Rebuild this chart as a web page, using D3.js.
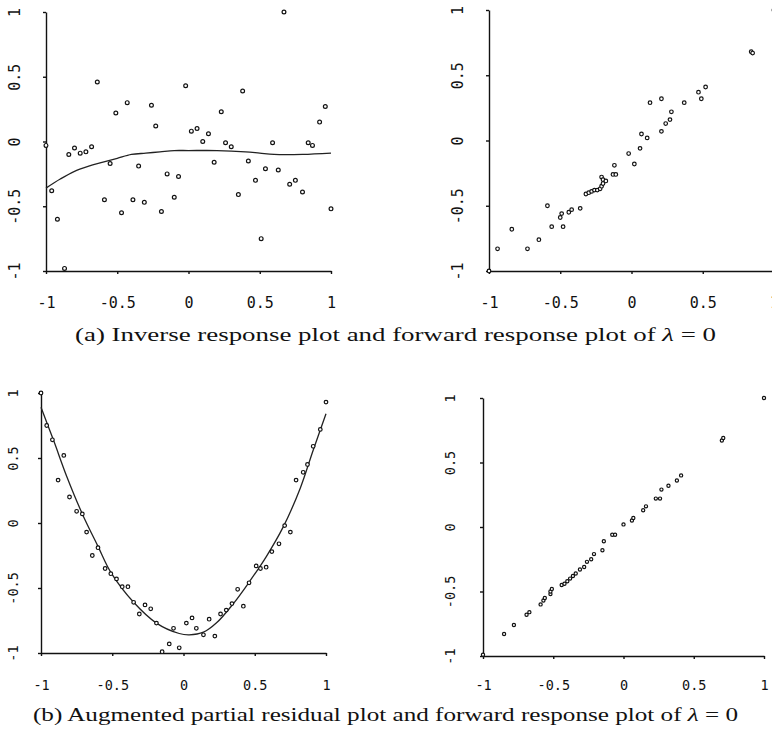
<!DOCTYPE html>
<html>
<head>
<meta charset="utf-8">
<script src="https://cdn.jsdelivr.net/npm/d3@7"></script>
<style>
	body { margin: 0; background: #fff; }
	svg { display: block; }
	.axis path, .axis line { stroke: #111; stroke-width: 1.4; }
	.axis text { font-family: "DejaVu Sans Mono", monospace; fill: #111; }
	.caption { font-family: "Liberation Serif", "DejaVu Serif", serif; fill: #111; }
</style>
</head>
<body>
<svg id="fig" width="772" height="731"></svg>
<script>
const tickValues = [-1, -0.5, 0, 0.5, 1];

// (a) left: inverse response plot
const inversePts = [
	[-1.00, -0.03], [-0.96, -0.38], [-0.92, -0.60], [-0.87, -0.98], [-0.84, -0.10],
	[-0.80, -0.05], [-0.76, -0.09], [-0.72, -0.08], [-0.68, -0.04], [-0.64, 0.46],
	[-0.59, -0.45], [-0.55, -0.17], [-0.51, 0.22], [-0.47, -0.55], [-0.43, 0.30],
	[-0.39, -0.45], [-0.35, -0.19], [-0.31, -0.47], [-0.26, 0.28], [-0.23, 0.12],
	[-0.19, -0.54], [-0.15, -0.25], [-0.10, -0.43], [-0.07, -0.27], [-0.02, 0.43],
	[0.02, 0.08], [0.06, 0.10], [0.10, 0.00], [0.14, 0.06], [0.18, -0.16],
	[0.23, 0.23], [0.26, -0.01], [0.30, -0.04], [0.35, -0.41], [0.38, 0.39],
	[0.42, -0.15], [0.47, -0.30], [0.51, -0.75], [0.54, -0.21], [0.59, -0.01],
	[0.63, -0.22], [0.67, 1.00], [0.71, -0.33], [0.75, -0.30], [0.80, -0.39],
	[0.84, -0.01], [0.87, -0.03], [0.92, 0.15], [0.96, 0.27], [1.00, -0.52]
];
const inverseFit = [
	[-1, -0.36], [-0.9, -0.29], [-0.8, -0.23], [-0.7, -0.19], [-0.6, -0.16],
	[-0.5, -0.13], [-0.4, -0.10], [-0.3, -0.09], [-0.2, -0.08], [-0.1, -0.07],
	[0, -0.07], [0.2, -0.07], [0.4, -0.08], [0.5, -0.09], [0.6, -0.10],
	[0.8, -0.10], [1, -0.09]
];

// (a) right: forward response plot
const forwardAPts = [
	[-1.00, -1.00], [-0.94, -0.83], [-0.84, -0.68], [-0.73, -0.83], [-0.65, -0.76],
	[-0.59, -0.50], [-0.56, -0.66], [-0.50, -0.59], [-0.49, -0.56], [-0.48, -0.66],
	[-0.44, -0.55], [-0.42, -0.53], [-0.36, -0.52], [-0.32, -0.41], [-0.30, -0.40],
	[-0.28, -0.39], [-0.26, -0.38], [-0.24, -0.38], [-0.22, -0.37], [-0.21, -0.35],
	[-0.20, -0.33], [-0.21, -0.28], [-0.20, -0.30], [-0.18, -0.31], [-0.13, -0.26],
	[-0.11, -0.26], [-0.12, -0.19], [-0.02, -0.10], [0.02, -0.18], [0.06, -0.06],
	[0.07, 0.05], [0.11, 0.02], [0.13, 0.29], [0.21, 0.07], [0.21, 0.32],
	[0.24, 0.13], [0.27, 0.16], [0.28, 0.22], [0.37, 0.29], [0.47, 0.37],
	[0.49, 0.32], [0.52, 0.41], [0.84, 0.68], [0.85, 0.67], [1.00, 1.00]
];

// (b) left: augmented partial residual plot
const augmentedPts = [
	[-1.00, 1.00], [-0.96, 0.75], [-0.92, 0.64], [-0.88, 0.33], [-0.84, 0.52],
	[-0.80, 0.20], [-0.75, 0.09], [-0.71, 0.07], [-0.68, -0.07], [-0.64, -0.25],
	[-0.60, -0.19], [-0.55, -0.35], [-0.51, -0.39], [-0.47, -0.43], [-0.43, -0.49],
	[-0.39, -0.49], [-0.35, -0.61], [-0.31, -0.70], [-0.27, -0.63], [-0.23, -0.66],
	[-0.19, -0.77], [-0.15, -0.99], [-0.10, -0.93], [-0.07, -0.81], [-0.03, -0.96],
	[0.02, -0.77], [0.06, -0.73], [0.09, -0.81], [0.14, -0.86], [0.18, -0.74],
	[0.22, -0.87], [0.26, -0.70], [0.30, -0.67], [0.34, -0.62], [0.38, -0.51],
	[0.42, -0.64], [0.46, -0.46], [0.51, -0.33], [0.54, -0.35], [0.58, -0.34],
	[0.62, -0.22], [0.67, -0.16], [0.71, -0.02], [0.75, -0.07], [0.79, 0.33],
	[0.84, 0.39], [0.87, 0.45], [0.91, 0.59], [0.96, 0.72], [1.00, 0.93]
];
const augmentedFit = [
	[-1.00, 0.89], [-0.91, 0.63], [-0.82, 0.36], [-0.71, 0.07], [-0.60, -0.18],
	[-0.51, -0.38], [-0.35, -0.61], [-0.19, -0.77], [-0.03, -0.85], [0.04, -0.86],
	[0.14, -0.84], [0.23, -0.77], [0.35, -0.62], [0.47, -0.44], [0.58, -0.26],
	[0.70, -0.03], [0.82, 0.27], [0.91, 0.56], [1.00, 0.84]
];

// (b) right: forward response plot
const forwardBPts = [
	[-1.00, -0.99], [-0.85, -0.83], [-0.78, -0.76], [-0.69, -0.68], [-0.67, -0.66],
	[-0.59, -0.60], [-0.57, -0.57], [-0.56, -0.55], [-0.52, -0.52], [-0.52, -0.50],
	[-0.51, -0.48], [-0.44, -0.45], [-0.42, -0.44], [-0.40, -0.42], [-0.38, -0.40],
	[-0.36, -0.38], [-0.34, -0.36], [-0.31, -0.33], [-0.28, -0.31], [-0.26, -0.27],
	[-0.23, -0.25], [-0.21, -0.21], [-0.15, -0.18], [-0.14, -0.11], [-0.08, -0.06],
	[-0.06, -0.06], [0.00, 0.02], [0.06, 0.05], [0.07, 0.07], [0.14, 0.13],
	[0.16, 0.16], [0.23, 0.22], [0.26, 0.22], [0.27, 0.29], [0.32, 0.32],
	[0.38, 0.36], [0.41, 0.40], [0.70, 0.67], [0.71, 0.69], [1.00, 1.00]
];

const captions = [
	{ pre: '(a) Inverse response plot and forward response plot of ', x: 395.5, y: 341, len: 641 },
	{ pre: '(b) Augmented partial residual plot and forward response plot of ', x: 385.5, y: 721, len: 705 }
];

const panels = [
	{ pts: inversePts, fit: inverseFit, xr: [46, 331], yr: [271, 12], lab: 31, fs: 15, r: 1.9, down: 32 },
	{ pts: forwardAPts, fit: null, xr: [489, 774], yr: [271, 10], lab: 31, fs: 15, r: 1.8, down: 32 },
	{ pts: augmentedPts, fit: augmentedFit, xr: [41, 326], yr: [653, 393], lab: 28, fs: 13.5, r: 1.8, down: 32 },
	{ pts: forwardBPts, fit: null, xr: [483, 764], yr: [656, 398], lab: 33, fs: 13.5, r: 1.6, down: 29 }
];

const svg = d3.select('#fig');
const fmt = (d) => String(d);

panels.forEach((p) => {
	const x = d3.scaleLinear().domain([-1, 1]).range(p.xr);
	const y = d3.scaleLinear().domain([-1, 1]).range(p.yr);
	const g = svg.append('g');

	const xAxis = g.append('g')
		.attr('class', 'axis')
		.attr('transform', `translate(0,${p.yr[0]})`)
		.call(d3.axisBottom(x)
			.tickValues(tickValues)
			.tickFormat(fmt)
			.tickSizeInner(3)
			.tickSizeOuter(0)
			.tickPadding(p.down - 3 - 0.36 * p.fs));
	xAxis.selectAll('text').attr('font-size', p.fs);

	const yAxis = g.append('g')
		.attr('class', 'axis')
		.attr('transform', `translate(${p.xr[0]},0)`)
		.call(d3.axisLeft(y)
			.tickValues(tickValues)
			.tickFormat(fmt)
			.tickSizeInner(3)
			.tickSizeOuter(0));
	yAxis.selectAll('text')
		.attr('font-size', p.fs)
		.attr('transform', 'rotate(-90)')
		.attr('x', 0)
		.attr('y', -(p.lab - 0.36 * p.fs))
		.attr('dy', null)
		.attr('text-anchor', 'middle');

	if (p.fit) {
		g.append('path')
			.datum(p.fit)
			.attr('fill', 'none')
			.attr('stroke', '#222')
			.attr('stroke-width', 1.3)
			.attr('d', d3.line()
				.x((d) => x(d[0]))
				.y((d) => y(d[1]))
				.curve(d3.curveCatmullRom));
	}

	g.selectAll('circle')
		.data(p.pts)
		.enter()
		.append('circle')
		.attr('cx', (d) => x(d[0]))
		.attr('cy', (d) => y(d[1]))
		.attr('r', p.r)
		.attr('fill', '#fff')
		.attr('stroke', '#111')
		.attr('stroke-width', 1.2);
});

captions.forEach((c) => {
	const t = svg.append('text')
		.attr('class', 'caption')
		.attr('x', c.x)
		.attr('y', c.y)
		.attr('font-size', 19)
		.attr('text-anchor', 'middle')
		.attr('textLength', c.len)
		.attr('lengthAdjust', 'spacingAndGlyphs');
	t.append('tspan').text(c.pre);
	t.append('tspan').attr('font-style', 'italic').text('λ');
	t.append('tspan').text(' = 0');
});
</script>
</body>
</html>
